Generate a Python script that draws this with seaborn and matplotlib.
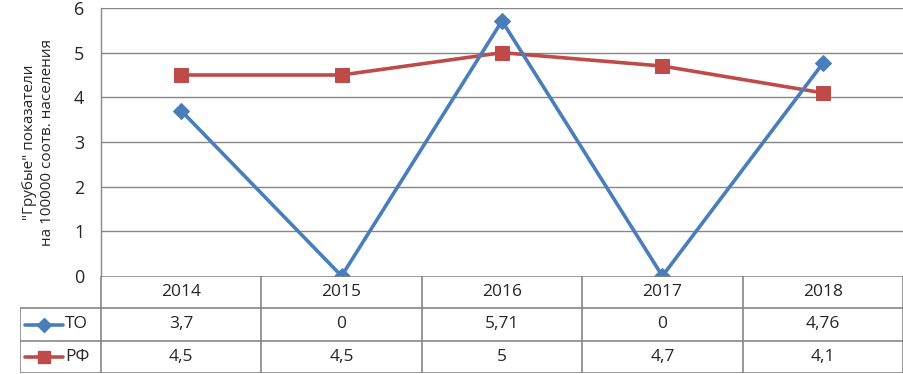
import matplotlib
matplotlib.use("Agg")
import matplotlib.pyplot as plt
import seaborn as sns
import pandas as pd
from matplotlib.lines import Line2D

years = ["2014", "2015", "2016", "2017", "2018"]
to_values = [3.7, 0, 5.71, 0, 4.76]
rf_values = [4.5, 4.5, 5, 4.7, 4.1]
to_labels = ["3,7", "0", "5,71", "0", "4,76"]
rf_labels = ["4,5", "4,5", "5", "4,7", "4,1"]
series_names = ["ТО", "РФ"]
y_ticks = [0, 1, 2, 3, 4, 5, 6]
y_label = "\"Грубые\" показатели\nна 100000 соотв. населения"

sns.set_style("white")
plt.rcParams['font.family'] = ['Open Sans', 'DejaVu Sans']

blue = "#4A7EBB"
red = "#BE4B48"
grid = "#868686"
fs = 12.5

W, H = 904, 374
fig = plt.figure(figsize=(W / 100, H / 100), dpi=100)

L, R, T, B = 101, 903, 8, 276
ax = fig.add_axes([L / W, 1 - B / H, (R - L) / W, (B - T) / H])

df = pd.DataFrame({
    "x": list(range(len(years))) * 2,
    "value": to_values + rf_values,
    "series": [series_names[0]] * len(years) + [series_names[1]] * len(years),
})
sns.lineplot(data=df[df.series == series_names[0]], x="x", y="value", ax=ax,
             color=blue, lw=2.6, marker="D", markersize=8, markeredgecolor=blue,
             legend=False, zorder=4)
sns.lineplot(data=df[df.series == series_names[1]], x="x", y="value", ax=ax,
             color=red, lw=2.6, marker="s", markersize=10, markeredgecolor=red,
             legend=False, zorder=3)

ax.set_xlim(-0.5, len(years) - 0.5)
ax.set_ylim(0, 6)
ax.set_yticks(y_ticks)
ax.set_yticklabels([str(t) for t in y_ticks], fontsize=13)
ax.set_xticks([])
ax.set_xlabel("")
ax.set_ylabel(y_label, fontsize=11, linespacing=1.2, labelpad=14)
for t in y_ticks[1:]:
    ax.axhline(t, color=grid, lw=1, zorder=1)
for s in ["top", "right", "bottom"]:
    ax.spines[s].set_visible(False)
ax.spines["left"].set_color(grid)
ax.spines["left"].set_linewidth(1)
ax.tick_params(axis="y", length=0, pad=12)
ax.patch.set_alpha(0)

# data table
TL, TB = 20, 373
first_w = (L - TL) / ((R - L) / len(years))
tax = fig.add_axes([TL / W, 1 - TB / H, (R - TL) / W, (TB - B) / H])
tax.set_xlim(-0.5 - first_w, len(years) - 0.5)
tax.set_ylim(3, 0)
tax.axis("off")
lc = dict(color=grid, lw=1.2, solid_capstyle="butt")
x0 = -0.5 - first_w
xe = len(years) - 0.5
tax.plot([-0.5, xe], [0.0, 0.0], **lc)
tax.plot([x0, xe], [1, 1], **lc)
tax.plot([x0, xe], [2, 2], **lc)
tax.plot([x0, xe], [3, 3], **lc)
tax.plot([x0, x0], [1, 3], **lc)
for i in range(len(years) + 1):
    tax.plot([i - 0.5, i - 0.5], [0, 3], **lc)
for i, yr in enumerate(years):
    tax.text(i, 0.5, yr, ha="center", va="center", fontsize=fs)
    tax.text(i, 1.5, to_labels[i], ha="center", va="center", fontsize=fs)
    tax.text(i, 2.5, rf_labels[i], ha="center", va="center", fontsize=fs)

# legend keys
lx0 = x0 + 0.03
lx1 = x0 + 0.27
tax.add_line(Line2D([lx0, lx1], [1.5, 1.5], color=blue, lw=2.6))
tax.plot([(lx0 + lx1) / 2], [1.5], marker="D", color=blue, markersize=7)
tax.add_line(Line2D([lx0, lx1], [2.5, 2.5], color=red, lw=2.6))
tax.plot([(lx0 + lx1) / 2], [2.5], marker="s", color=red, markersize=9)
tax.text(lx1 + 0.01, 1.5, series_names[0], ha="left", va="center", fontsize=fs)
tax.text(lx1 + 0.01, 2.5, series_names[1], ha="left", va="center", fontsize=fs)

fig.savefig("out.png", dpi=100)
